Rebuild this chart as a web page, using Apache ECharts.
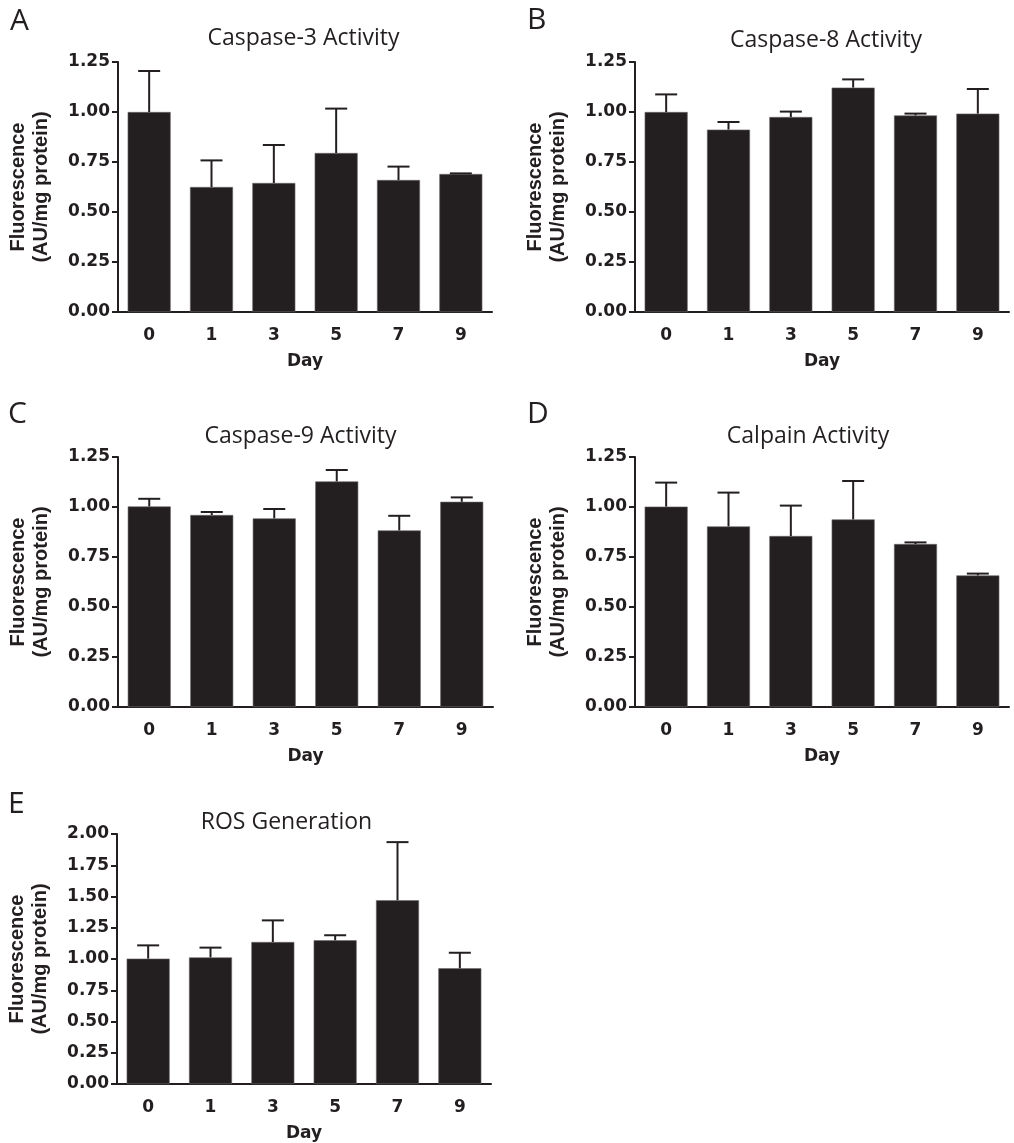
<!DOCTYPE html>
<html><head><meta charset="utf-8">
<script src="https://cdn.jsdelivr.net/npm/echarts@6/dist/echarts.min.js"></script>
<style>html,body{margin:0;padding:0;background:#fff}#c{width:1014px;height:1143px}</style>
</head><body><div id="c"></div>
<script>
// ---- data ----
const days = ['0', '1', '3', '5', '7', '9'];

const casp3Mean = [1.00, 0.625, 0.645, 0.795, 0.66, 0.69];
const casp3Err  = [0.205, 0.133, 0.19, 0.222, 0.067, 0.003];

const casp8Mean = [1.00, 0.912, 0.975, 1.122, 0.983, 0.992];
const casp8Err  = [0.088, 0.038, 0.027, 0.041, 0.009, 0.123];

const casp9Mean = [1.003, 0.96, 0.943, 1.128, 0.883, 1.026];
const casp9Err  = [0.038, 0.015, 0.047, 0.057, 0.073, 0.022];

const calpainMean = [1.002, 0.903, 0.855, 0.938, 0.815, 0.658];
const calpainErr  = [0.12, 0.169, 0.152, 0.192, 0.008, 0.009];

const rosMean = [1.003, 1.013, 1.136, 1.15, 1.47, 0.926];
const rosErr  = [0.106, 0.078, 0.173, 0.04, 0.465, 0.124];

const titles  = ['Caspase-3 Activity', 'Caspase-8 Activity', 'Caspase-9 Activity', 'Calpain Activity', 'ROS Generation'];
const letters = ['A', 'B', 'C', 'D', 'E'];
const yMaxes  = [1.25, 1.25, 1.25, 1.25, 2.0];
const yStep   = 0.25;
const xName   = 'Day';
const yName   = 'Fluorescence\n(AU/mg protein)';

// ---- layout ----
const C = '#231f20';
const grids = [
  {left: 118, top: 62,  width: 374, height: 250},
  {left: 635, top: 62,  width: 374, height: 250},
  {left: 118, top: 457, width: 375, height: 250},
  {left: 635, top: 457, width: 374, height: 250},
  {left: 117, top: 834, width: 374, height: 250}
];
const titlePos  = [[303.5, 38], [826, 40], [300.5, 436], [808, 436], [286.5, 822]];
const letterPos = [[10, 21], [527, 20], [8, 414], [527, 414], [8, 804]];
const means = [casp3Mean, casp8Mean, casp9Mean, calpainMean, rosMean];
const errs  = [casp3Err, casp8Err, casp9Err, calpainErr, rosErr];

const tickFont = {fontFamily: 'DejaVu Sans', fontWeight: 'bold', fontSize: 17, color: C};

const xAxes = [], yAxes = [], series = [], graphics = [];
grids.forEach((g, i) => {
  xAxes.push({
    type: 'category', gridIndex: i, data: days,
    name: xName, nameLocation: 'middle', nameGap: 41,
    nameTextStyle: {fontFamily: 'DejaVu Sans', fontWeight: 'bold', fontSize: 17, color: C},
    axisLine: {lineStyle: {color: C, width: 2}},
    axisTick: {alignWithLabel: true, length: 6, lineStyle: {color: C, width: 2}},
    axisLabel: Object.assign({margin: 15}, tickFont),
    splitLine: {show: false}
  });
  yAxes.push({
    type: 'value', gridIndex: i, min: 0, max: yMaxes[i], interval: yStep,
    name: yName, nameLocation: 'middle', nameGap: 65, nameRotate: 90,
    nameTextStyle: {fontFamily: 'Liberation Sans', fontWeight: 'bold', fontSize: 20, lineHeight: 23, color: C, align: 'center'},
    axisLine: {show: true, lineStyle: {color: C, width: 2}},
    axisTick: {show: true, length: 6, lineStyle: {color: C, width: 2}},
    axisLabel: Object.assign({margin: 8, formatter: v => v.toFixed(2)}, tickFont),
    splitLine: {show: false}
  });
  series.push({
    type: 'bar', xAxisIndex: i, yAxisIndex: i, data: means[i],
    barWidth: 43,
    itemStyle: {color: C, borderColor: '#6b6869', borderWidth: 0.6},
    z: 2
  });
  series.push({
    type: 'custom', xAxisIndex: i, yAxisIndex: i,
    data: means[i].map((m, k) => [k, m, errs[i][k]]),
    encode: {x: 0, y: 1},
    z: 3,
    renderItem: (params, api) => {
      const x = api.value(0), m = api.value(1), e = api.value(2);
      const p0 = api.coord([x, m]);
      const p1 = api.coord([x, m + e]);
      const hw = 11;
      return {type: 'group', children: [
        {type: 'line', shape: {x1: p0[0], y1: p0[1], x2: p1[0], y2: p1[1]}, style: {stroke: C, lineWidth: 2}},
        {type: 'line', shape: {x1: p1[0] - hw, y1: p1[1], x2: p1[0] + hw, y2: p1[1]}, style: {stroke: C, lineWidth: 2}}
      ]};
    }
  });
  graphics.push({
    type: 'text', x: titlePos[i][0], y: titlePos[i][1],
    style: {text: titles[i], fontFamily: 'Open Sans', fontSize: 23, fill: C, align: 'center', verticalAlign: 'middle'}
  });
  graphics.push({
    type: 'text', x: letterPos[i][0], y: letterPos[i][1],
    style: {text: letters[i], fontFamily: 'Open Sans', fontSize: 30, fill: C, align: 'left', verticalAlign: 'middle'}
  });
});

const chart = echarts.init(document.getElementById('c'), null, {renderer: 'canvas'});
chart.setOption({
  backgroundColor: '#fff',
  animation: false,
  grid: grids,
  xAxis: xAxes,
  yAxis: yAxes,
  series: series,
  graphic: graphics
});
</script>
</body></html>
